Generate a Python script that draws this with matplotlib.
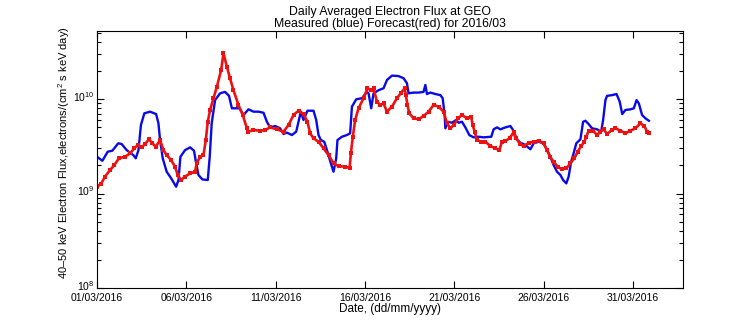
import numpy as np
import matplotlib
matplotlib.use('Agg')
import matplotlib.pyplot as plt
import matplotlib.dates as mdates
from matplotlib.ticker import LogLocator, NullFormatter
from matplotlib.transforms import ScaledTranslation

plt.rcParams['font.family'] = ['Liberation Sans', 'DejaVu Sans']
plt.rcParams['mathtext.fontset'] = 'custom'
plt.rcParams['mathtext.rm'] = 'Liberation Sans'
plt.rcParams['mathtext.it'] = 'Liberation Sans'

# measured flux (blue): day offset from 01/03/2016, flux in 1e9 units
blue_days = [0.04, 0.30, 0.60, 0.86, 1.19, 1.38, 1.66, 2.03, 2.17, 2.32, 2.46, 2.65, 2.97, 3.31, 3.44,
             3.53, 3.68, 3.90, 4.15, 4.43, 4.56, 4.67, 4.93, 5.21, 5.43, 5.55, 5.68, 5.90, 6.20, 6.31,
             6.42, 6.61, 6.89, 7.17, 7.39, 7.55, 7.97, 8.20, 8.48, 8.76, 9.04, 9.32, 9.51, 9.69, 9.97,
             10.25, 10.44, 10.63, 10.91, 11.15, 11.28, 11.41, 11.56, 11.78, 12.12, 12.27, 12.40, 12.53,
             12.72, 12.90, 13.09, 13.24, 13.39, 13.46, 13.71, 13.99, 14.17, 14.27, 14.51, 14.83, 15.11,
             15.20, 15.35, 15.48, 15.76, 16.04, 16.23, 16.51, 16.88, 17.16, 17.35, 17.44, 17.72, 18.00,
             18.28, 18.38, 18.47, 18.66, 18.94, 19.22, 19.35, 19.46, 19.50, 19.65, 19.87, 20.10, 20.24,
             20.43, 20.62, 20.84, 21.08, 21.36, 21.64, 22.07, 22.20, 22.39, 22.58, 22.86, 23.14, 23.29,
             23.42, 23.70, 23.98, 24.26, 24.44, 24.72, 25.00, 25.19, 25.38, 25.56, 25.75, 25.94, 26.09,
             26.27, 26.40, 26.54, 26.68, 26.83, 27.06, 27.21, 27.34, 27.52, 27.71, 27.99, 28.22, 28.33,
             28.46, 28.55, 28.83, 29.08, 29.26, 29.40, 29.58, 29.86, 30.05, 30.20, 30.33, 30.51, 30.70,
             30.89]
blue_flux = [2.42, 2.22, 2.77, 2.84, 3.40, 3.34, 2.88, 2.55, 2.36, 2.88, 5.31, 7.06, 7.35, 6.93, 5.53,
             3.68, 2.36, 1.70, 1.45, 1.18, 1.39, 2.45, 2.88, 3.08, 2.84, 2.09, 1.57, 1.41, 1.39, 2.45,
             5.53, 9.75, 11.5, 11.9, 10.8, 7.98, 7.98, 6.78, 7.78, 7.35, 7.35, 7.16, 5.75, 5.01, 5.18,
             4.90, 4.27, 4.41, 4.16, 4.51, 5.75, 7.35, 6.00, 7.52, 7.52, 6.00, 4.16, 3.68,
             3.53, 2.77, 2.09, 1.70, 2.36, 3.68, 3.99, 4.16, 4.34, 8.30, 9.93, 10.2, 11.9,
             11.5, 7.98, 11.5, 12.4, 13.0, 15.9, 17.7, 17.5, 16.6, 14.7, 11.5, 11.7, 11.7,
             11.9, 14.1, 11.3, 11.7, 11.3, 11.0, 10.2, 6.78, 4.90, 5.75, 5.61, 6.00, 5.61,
             5.75, 5.01, 4.16, 3.93, 3.99, 3.93, 3.99, 4.78, 5.01, 4.78, 5.01, 5.18, 4.70,
             3.84, 3.45, 3.26, 2.94, 3.40, 3.53, 3.40, 2.88, 2.45, 2.00, 1.70, 1.57, 1.39,
             1.28, 1.51, 2.17, 2.66, 3.40, 3.75, 5.75, 5.89, 5.43, 4.90, 4.78, 4.51, 6.00,
             9.75, 10.8, 11.0, 11.3, 9.38, 6.93, 7.66, 7.78, 7.98, 9.75, 8.99, 6.78, 6.25,
             5.89]

# forecast flux (red)
red_days = [0.00, 0.22, 0.45, 0.73, 0.97, 1.23, 1.57, 1.85, 2.09, 2.28, 2.50, 2.69, 2.91, 3.10, 3.29,
            3.53, 3.72, 3.90, 4.15, 4.37, 4.52, 4.71, 4.93, 5.21, 5.49, 5.58, 5.77, 5.96, 6.09, 6.20,
            6.33, 6.52, 6.71, 6.95, 7.08, 7.27, 7.45, 7.64, 7.92, 8.16, 8.39, 8.48, 8.76, 9.13, 9.41,
            9.69, 10.07, 10.44, 10.72, 11.00, 11.28, 11.56, 11.78, 11.93, 12.12, 12.40, 12.68, 12.96,
            13.24, 13.52, 13.89, 14.14, 14.21, 14.32, 14.45, 14.64, 14.92, 15.14, 15.35, 15.48, 15.67,
            15.85, 16.04, 16.23, 16.51, 16.79, 17.03, 17.22, 17.29, 17.38, 17.48, 17.72, 18.00, 18.28,
            18.56, 18.84, 19.12, 19.40, 19.59, 19.78, 19.97, 20.21, 20.43, 20.71, 20.95, 21.03, 21.14,
            21.27, 21.51, 21.74, 22.02, 22.30, 22.52, 22.67, 22.86, 23.10, 23.33, 23.48, 23.67, 23.89,
            24.17, 24.44, 24.72, 25.00, 25.19, 25.38, 25.56, 25.79, 26.03, 26.27, 26.50, 26.72, 26.91,
            27.10, 27.28, 27.39, 27.52, 27.77, 27.99, 28.18, 28.36, 28.55, 28.83, 29.02, 29.30, 29.58,
            29.86, 30.14, 30.42, 30.64, 30.79, 30.89]
red_flux = [1.18, 1.26, 1.51, 1.77, 2.00, 2.36, 2.45, 2.66, 3.01, 3.26, 3.08, 3.34, 3.75, 3.40, 3.13,
            3.68, 2.88, 2.55, 2.26, 1.92, 1.57, 1.39, 1.51, 1.63, 1.70, 2.09, 2.45, 2.55, 3.68, 5.75,
            7.66, 10.2, 13.5, 20.3, 30.5, 22.0, 16.5, 12.4, 8.65, 6.78, 4.90, 4.51, 4.70, 4.62, 4.70,
            5.01, 4.78, 4.51, 5.31, 6.78, 7.52, 6.93, 5.75, 4.34, 3.84, 3.53, 3.01, 2.55,
            2.09, 1.95, 1.92, 1.87, 2.66, 3.99, 6.00, 7.98, 10.2, 13.0, 12.4, 13.0, 9.38,
            8.65, 8.99, 7.35, 8.30, 10.2, 11.7, 13.0, 11.0, 8.65, 7.06, 6.25, 6.10, 6.61,
            7.35, 8.65, 8.30, 7.35, 5.53, 4.90, 5.31, 6.25, 6.78, 6.25, 6.40, 5.31, 4.51,
            3.68, 3.53, 3.53, 3.18, 3.01, 2.88, 3.53, 3.60, 3.84, 4.51, 3.84, 3.34, 3.18,
            3.45, 3.53, 3.62, 3.40, 2.88, 2.42, 2.17, 1.92, 1.80, 1.85, 2.09, 2.36, 2.77,
            3.18, 3.53, 3.99, 4.62, 4.62, 4.16, 4.51, 4.78, 4.27, 4.70, 4.90, 4.62, 4.34,
            4.62, 4.90, 5.53, 5.18, 4.51, 4.34]

tick_dates = ['2016-03-01', '2016-03-06', '2016-03-11', '2016-03-16',
              '2016-03-21', '2016-03-26', '2016-03-31']
y_ticks = [1e8, 1e9, 1e10]

start = np.datetime64('2016-03-01T00:00')
def to_dates(days):
    return start + (np.array(days) * 86400).astype('timedelta64[s]')

fig = plt.figure(figsize=(7.56, 3.24), dpi=100)
ax = fig.add_axes([0.1283, 0.1111, 0.7751, 0.7932])

ax.plot(to_dates(blue_days), np.array(blue_flux) * 1e9, color='#0a0ae6', lw=1.7)
ax.plot(to_dates(red_days), np.array(red_flux) * 1e9, color='#ee1111', lw=1.9,
        marker='s', markersize=2.4, markeredgewidth=0)

ax.set_yscale('log')
ax.set_ylim(1e8, 10 ** 10.72)
ax.set_xlim(start, start + np.timedelta64(int(32.8 * 86400), 's'))
ax.set_yticks(y_ticks)
ax.yaxis.set_minor_locator(LogLocator(base=10, subs=np.arange(2, 10), numticks=20))
ax.yaxis.set_minor_formatter(NullFormatter())
ax.set_xticks(np.array(tick_dates, dtype='datetime64[s]'))
ax.xaxis.set_major_formatter(mdates.DateFormatter('%d/%m/%Y'))

ax.tick_params(which='both', direction='in', top=True, right=True, labelsize=7.5, pad=2)
ax.tick_params(axis='x', pad=3.5)
ax.tick_params(which='major', length=5, width=0.8)
ax.tick_params(which='minor', length=3, width=0.8)

ax.set_title('Daily Averaged Electron Flux at GEO\nMeasured (blue) Forecast(red) for 2016/03',
             fontsize=8.8, linespacing=1.0, pad=3)
ax.set_xlabel('Date, (dd/mm/yyyy)', fontsize=8.5, labelpad=0)
ax.set_ylabel('40\u201350 keV Electron Flux,electrons/(cm$^2$ s keV day)', fontsize=8.0)
ax.yaxis.set_label_coords(-0.043, 0.527)

# nudge the y tick labels up a little, like the reference
fig.canvas.draw()
shift = ScaledTranslation(0, 3 / 100, fig.dpi_scale_trans)
for lbl in ax.get_yticklabels():
    lbl.set_transform(lbl.get_transform() + shift)

fig.savefig('out.png', dpi=100)
